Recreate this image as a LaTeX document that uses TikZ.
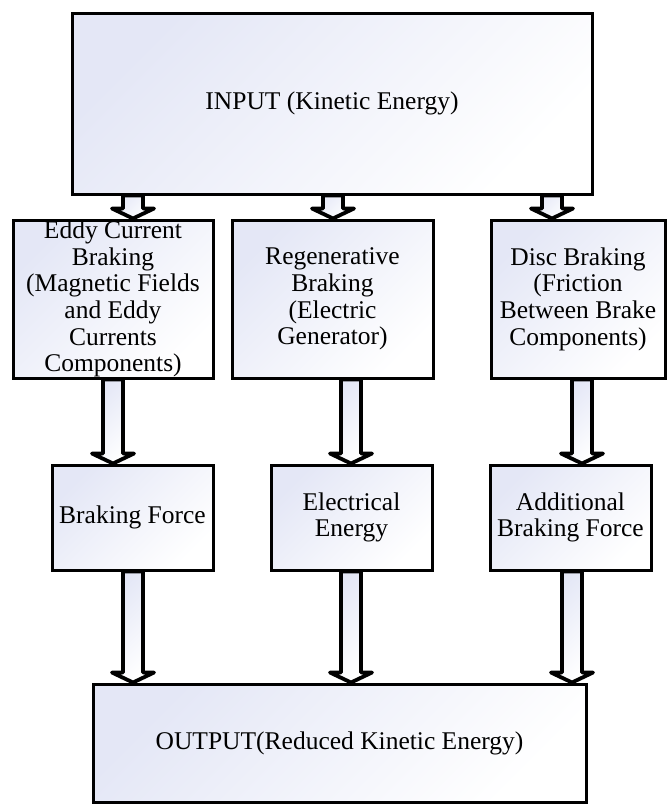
\documentclass[tikz,border=0pt]{standalone}
\usepackage{fontspec}
\setmainfont{Liberation Serif}
\usetikzlibrary{calc}
\definecolor{lav}{RGB}{228,231,246}
\tikzset{
  box/.style={draw=black, line width=3pt, rectangle, inner sep=0pt, align=center,
    top color=lav, middle color=white, bottom color=white, shading angle=45,
    font=\fontsize{25.5}{26.7}\selectfont},
  fat/.style={draw=black, line width=3.8pt, line join=round,
    top color=lav, middle color=white, bottom color=white, shading angle=45}
}
\newcommand{\fatarrow}[3]{%
  \path (#1 |- #2.south) coordinate (fs) (#1 |- #3.north) coordinate (ft);
  \draw[fat] ($(fs)+(-10,0)$) -- ($(ft)+(-10,-10)$) -- ($(ft)+(-21,-10)$) -- (ft)
    -- ($(ft)+(21,-10)$) -- ($(ft)+(10,-10)$) -- ($(fs)+(10,0)$) -- cycle;}
\begin{document}
\begin{tikzpicture}[x=1pt,y=-1pt]
\useasboundingbox (0,0) rectangle (667,804);
\fill[white] (0,0) rectangle (667,804);
% boxes
\node[box, minimum width=520pt, minimum height=181pt] (in) at (332,103.5) {INPUT (Kinetic Energy)};
\node[box, minimum width=200pt, minimum height=158pt] (eddy) at (113,299) {Eddy Current\\Braking\\(Magnetic Fields\\and Eddy\\Currents\\Components)};
\node[box, minimum width=201pt, minimum height=158pt] (regen) at (332.5,299) {Regenerative\\Braking\\(Electric\\Generator)};
\node[box, minimum width=174pt, minimum height=158pt] (disc) at (578,299) {Disc Braking\\(Friction\\Between Brake\\Components)};
\node[box, minimum width=161pt, minimum height=105pt] (bf) at (132.5,517.5) {Braking Force};
\node[box, minimum width=161pt, minimum height=105pt] (ee) at (351.5,517.5) {Electrical\\Energy};
\node[box, minimum width=161pt, minimum height=105pt] (abf) at (570.5,517.5) {Additional\\Braking Force};
\node[box, minimum width=493pt, minimum height=118pt] (out) at (339.5,743) {OUTPUT(Reduced Kinetic Energy)};
% arrow columns
\coordinate (k1) at (133,0);
\coordinate (k2) at (333,0);
\coordinate (k3) at (552,0);
\coordinate (k4) at (113,0);
\coordinate (k5) at (351,0);
\coordinate (k6) at (582,0);
\coordinate (k8) at (572,0);
% arrows
\fatarrow{k1}{in}{eddy}
\fatarrow{k2}{in}{regen}
\fatarrow{k3}{in}{disc}
\fatarrow{k4}{eddy}{bf}
\fatarrow{k5}{regen}{ee}
\fatarrow{k6}{disc}{abf}
\fatarrow{k1}{bf}{out}
\fatarrow{k5}{ee}{out}
\fatarrow{k8}{abf}{out}
\end{tikzpicture}
\end{document}
